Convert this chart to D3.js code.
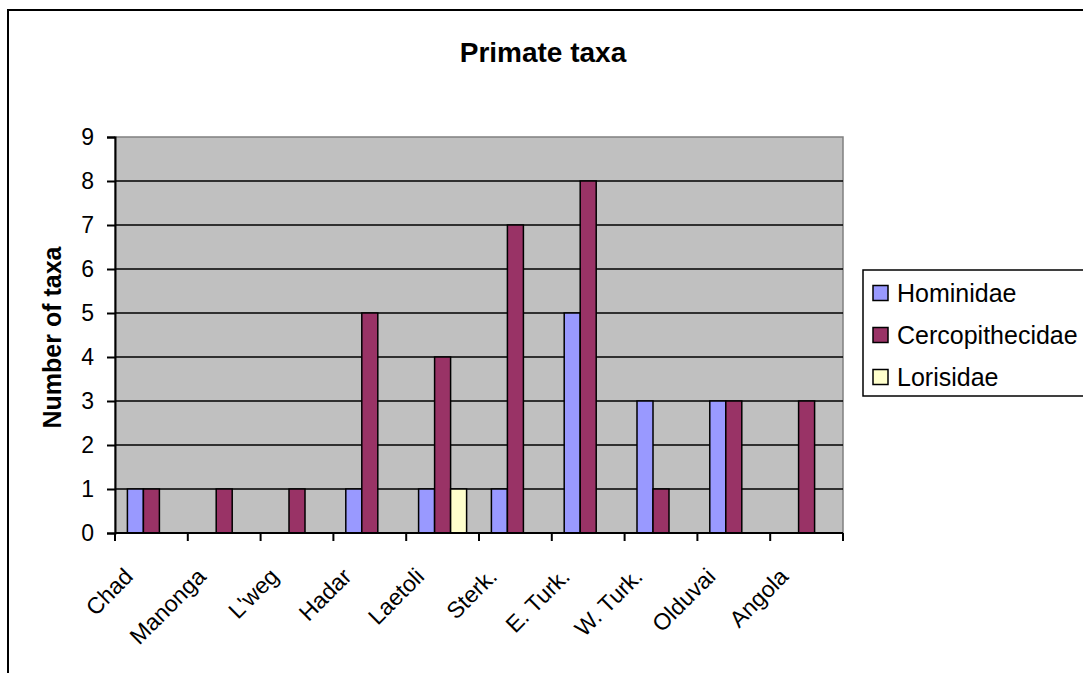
<!DOCTYPE html>
<html>
<head>
<meta charset="utf-8">
<script src="https://cdnjs.cloudflare.com/ajax/libs/d3/7.8.5/d3.min.js"></script>
<style>
  body { margin: 0; background: #fff; }
  svg text { font-family: "Liberation Sans", Arial, sans-serif; }
</style>
</head>
<body>
<div id="container"></div>
<script>
var sites = ["Chad", "Manonga", "L'weg", "Hadar", "Laetoli", "Sterk.", "E. Turk.", "W. Turk.", "Olduvai", "Angola"];
var seriesNames = ["Hominidae", "Cercopithecidae", "Lorisidae"];
var hominidae = [1, 0, 0, 1, 1, 1, 5, 3, 3, 0];
var cercopithecidae = [1, 1, 1, 5, 4, 7, 8, 1, 3, 3];
var lorisidae = [0, 0, 0, 0, 1, 0, 0, 0, 0, 0];
var yTicks = [0, 1, 2, 3, 4, 5, 6, 7, 8, 9];

var width = 1083;
var height = 673;
var margin = {left: 115, top: 137};
var plotWidth = 728;
var plotHeight = 396;

var seriesValues = [hominidae, cercopithecidae, lorisidae];
var data = sites.map(function(s, i) {
    return {site: s, values: seriesNames.map(function(n, j) {
        return {name: n, value: seriesValues[j][i]};
    })};
});

var color = d3.scaleOrdinal()
    .domain(seriesNames)
    .range(["#9999ff", "#993366", "#ffffcc"]);

var svg = d3.select('#container').append('svg').attr('width', width).attr('height', height);

// outer chart frame (runs off the right and bottom edge)
svg.append('rect')
    .attr('x', 8).attr('y', 10)
    .attr('width', 1100).attr('height', 700)
    .attr('fill', 'none')
    .attr('stroke', '#000')
    .attr('stroke-width', 2);

svg.append('text')
    .attr('x', 543).attr('y', 62)
    .attr('text-anchor', 'middle')
    .attr('font-size', '28px')
    .attr('font-weight', 'bold')
    .text('Primate taxa');

var x0 = d3.scaleBand().domain(sites).range([0, plotWidth]).paddingInner(0).paddingOuter(0);
var x1 = d3.scaleBand().domain(seriesNames).range([0, x0.bandwidth()]).paddingInner(0).paddingOuter(0.775);
var y = d3.scaleLinear().domain([0, 9]).range([plotHeight, 0]);

var chartGroup = svg.append('g').attr('transform', 'translate(' + margin.left + ',' + margin.top + ')');

chartGroup.append('rect')
    .attr('width', plotWidth).attr('height', plotHeight)
    .attr('fill', '#c0c0c0')
    .attr('stroke', '#808080')
    .attr('stroke-width', 1.5);

// gridlines
chartGroup.selectAll('.grid')
    .data(yTicks.filter(function(d) { return d > 0 && d < 9; }))
    .enter().append('line')
    .attr('class', 'grid')
    .attr('x1', 0).attr('x2', plotWidth)
    .attr('y1', function(d) { return y(d); })
    .attr('y2', function(d) { return y(d); })
    .attr('stroke', '#000')
    .attr('stroke-width', 1.5);

var groups = chartGroup.selectAll('.site')
    .data(data)
    .enter().append('g')
    .attr('class', 'site')
    .attr('transform', function(d) { return 'translate(' + x0(d.site) + ',0)'; });

groups.selectAll('rect')
    .data(function(d) { return d.values.filter(function(v) { return v.value > 0; }); })
    .enter().append('rect')
    .attr('x', function(d) { return x1(d.name); })
    .attr('y', function(d) { return y(d.value); })
    .attr('width', x1.bandwidth())
    .attr('height', function(d) { return plotHeight - y(d.value); })
    .attr('fill', function(d) { return color(d.name); })
    .attr('stroke', '#000')
    .attr('stroke-width', 1.5);

// y axis
var yAxis = chartGroup.append('g')
    .call(d3.axisLeft(y).tickValues(yTicks).tickSize(8).tickPadding(13).tickFormat(d3.format('d')));
yAxis.select('.domain').attr('stroke', '#000').attr('stroke-width', 2);
yAxis.selectAll('.tick line').attr('stroke-width', 2);
yAxis.selectAll('text').attr('font-size', '23px').attr('fill', '#000')
    .style('font-family', '"Liberation Sans", Arial, sans-serif');

// x axis with ticks between categories
var xAxis = chartGroup.append('g')
    .attr('transform', 'translate(0,' + plotHeight + ')');
xAxis.append('line')
    .attr('x1', 0).attr('x2', plotWidth)
    .attr('stroke', '#000').attr('stroke-width', 2);
xAxis.selectAll('.xtick')
    .data(sites.concat(['end']))
    .enter().append('line')
    .attr('class', 'xtick')
    .attr('x1', function(d, i) { return i * x0.step(); })
    .attr('x2', function(d, i) { return i * x0.step(); })
    .attr('y1', 0).attr('y2', 8)
    .attr('stroke', '#000').attr('stroke-width', 2);
xAxis.selectAll('.xlabel')
    .data(sites)
    .enter().append('text')
    .attr('class', 'xlabel')
    .attr('text-anchor', 'end')
    .attr('font-size', '23px')
    .attr('transform', function(d) {
        return 'translate(' + (x0(d) + x0.bandwidth() / 2 - 17) + ',45) rotate(-45)';
    })
    .text(function(d) { return d; });

svg.append('text')
    .attr('transform', 'translate(61,337.5) rotate(-90)')
    .attr('text-anchor', 'middle')
    .attr('font-size', '25px')
    .attr('font-weight', 'bold')
    .text('Number of taxa');

// legend
var legend = svg.append('g').attr('transform', 'translate(863,270)');
legend.append('rect')
    .attr('width', 240).attr('height', 126)
    .attr('fill', '#fff')
    .attr('stroke', '#000')
    .attr('stroke-width', 1.5);
var items = legend.selectAll('.item')
    .data(seriesNames)
    .enter().append('g')
    .attr('class', 'item')
    .attr('transform', function(d, i) { return 'translate(0,' + (23 + i * 42) + ')'; });
items.append('rect')
    .attr('x', 10).attr('y', -7.5)
    .attr('width', 15).attr('height', 15)
    .attr('fill', function(d) { return color(d); })
    .attr('stroke', '#000')
    .attr('stroke-width', 1.5);
items.append('text')
    .attr('x', 34).attr('y', 9)
    .attr('font-size', '25px')
    .text(function(d) { return d; });
</script>
</body>
</html>
